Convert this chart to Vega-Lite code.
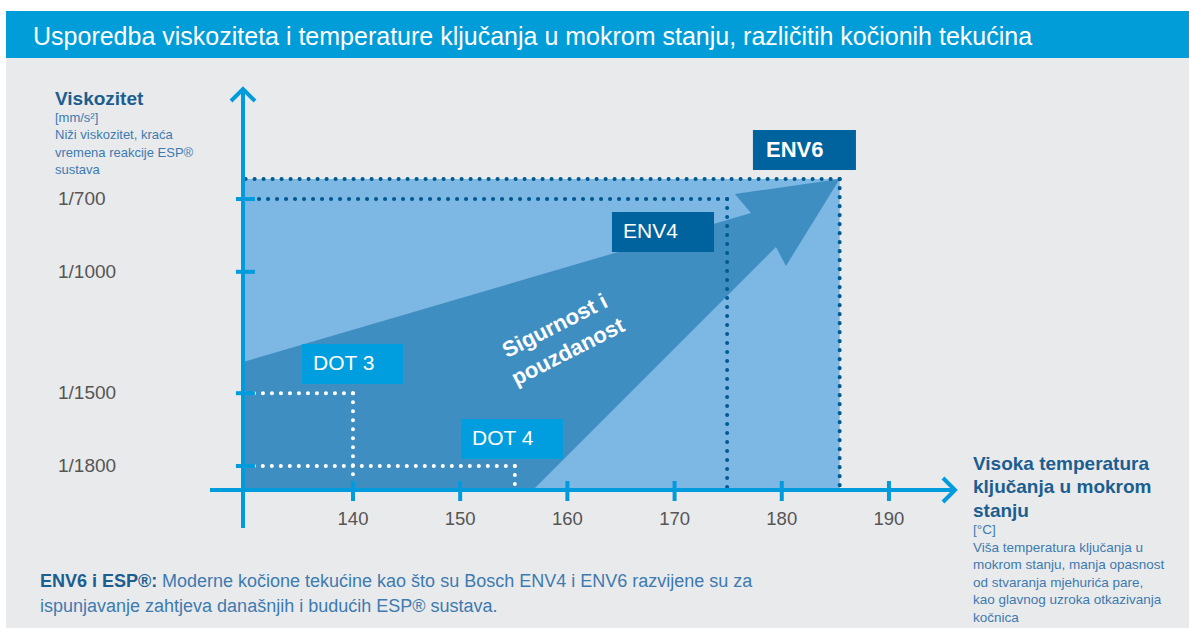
{
  "$schema": "https://vega.github.io/schema/vega-lite/v6.json",
  "width": 1189,
  "height": 628,
  "autosize": {"type": "fit", "contains": "padding"},
  "padding": 0,
  "background": "#ffffff",
  "config": {"view": {"stroke": null}, "font": "Liberation Sans"},
  "datasets": {
    "fluids": [
      {"fluid": "ENV6", "family": "ENV", "temp": 185.4, "visc": 618},
      {"fluid": "ENV4", "family": "ENV", "temp": 174.9, "visc": 700},
      {"fluid": "DOT 3", "family": "DOT", "temp": 140, "visc": 1500},
      {"fluid": "DOT 4", "family": "DOT", "temp": 155.1, "visc": 1800}
    ],
    "arrow": [
      {"i": 1, "temp": 129.74, "visc": 1371.5},
      {"i": 2, "temp": 177.13, "visc": 757.7},
      {"i": 3, "temp": 175.63, "visc": 679.4},
      {"i": 4, "temp": 185.4, "visc": 618},
      {"i": 5, "temp": 180.39, "visc": 976.0},
      {"i": 6, "temp": 179.46, "visc": 897.8},
      {"i": 7, "temp": 156.79, "visc": 1898.9},
      {"i": 8, "temp": 129.74, "visc": 1898.9}
    ],
    "xticks": [{"temp": 140}, {"temp": 150}, {"temp": 160}, {"temp": 170}, {"temp": 180}, {"temp": 190}],
    "yticks": [
      {"visc": 700, "label": "1/700"},
      {"visc": 1000, "label": "1/1000"},
      {"visc": 1500, "label": "1/1500"},
      {"visc": 1800, "label": "1/1800"}
    ],
    "one": [{}]
  },
  "layer": [
    {
      "data": {"name": "one"},
      "mark": {"type": "rect", "color": "#e9eaec"},
      "encoding": {
        "x": {"datum": 107.63, "type": "quantitative", "axis": null, "scale": {"domain": [107.07, 217.99], "nice": false, "zero": false}},
        "x2": {"datum": 217.99},
        "y": {"datum": 119.1, "type": "quantitative", "axis": null, "scale": {"domain": [-119.84, 2467.4], "nice": false, "zero": false, "reverse": true}},
        "y2": {"datum": 2467.4}
      }
    },
    {
      "data": {"name": "one"},
      "mark": {"type": "rect", "color": "#009dd9"},
      "encoding": {
        "x": {"datum": 107.63, "type": "quantitative", "axis": null},
        "x2": {"datum": 217.99},
        "y": {"datum": -74.5, "type": "quantitative", "axis": null},
        "y2": {"datum": 119.1}
      }
    },
    {
      "data": {"name": "one"},
      "mark": {"type": "text", "text": "Usporedba viskoziteta i temperature ključanja u mokrom stanju, različitih kočionih tekućina", "align": "left", "baseline": "middle", "fontSize": 25, "color": "#ffffff"},
      "encoding": {"x": {"datum": 110.15, "type": "quantitative", "axis": null}, "y": {"datum": 32.6, "type": "quantitative", "axis": null}}
    },
    {
      "data": {"name": "one"},
      "mark": {"type": "rect", "color": "#7db7e3"},
      "encoding": {
        "x": {"datum": 129.74, "type": "quantitative", "axis": null},
        "x2": {"datum": 185.4},
        "y": {"datum": 618, "type": "quantitative", "axis": null},
        "y2": {"datum": 1898.9}
      }
    },
    {
      "data": {"name": "arrow"},
      "mark": {"type": "line", "filled": true, "color": "#3f8ec1"},
      "encoding": {
        "x": {"field": "temp", "type": "quantitative", "axis": null},
        "y": {"field": "visc", "type": "quantitative", "axis": null},
        "order": {"field": "i", "type": "quantitative"}
      }
    },
    {
      "data": {"name": "fluids"},
      "transform": [{"filter": "datum.family === 'ENV'"}],
      "mark": {"type": "rule", "color": "#005a91", "strokeWidth": 4, "strokeDash": [0.1, 8.9], "strokeCap": "round"},
      "encoding": {
        "x": {"field": "temp", "type": "quantitative", "axis": null},
        "x2": {"datum": 129.74},
        "y": {"field": "visc", "type": "quantitative", "axis": null}
      }
    },
    {
      "data": {"name": "fluids"},
      "transform": [{"filter": "datum.family === 'ENV'"}],
      "mark": {"type": "rule", "color": "#005a91", "strokeWidth": 4, "strokeDash": [0.1, 8.9], "strokeCap": "round"},
      "encoding": {
        "x": {"field": "temp", "type": "quantitative", "axis": null},
        "y": {"field": "visc", "type": "quantitative", "axis": null},
        "y2": {"datum": 1898.9}
      }
    },
    {
      "data": {"name": "fluids"},
      "transform": [{"filter": "datum.family === 'DOT'"}],
      "mark": {"type": "rule", "color": "#ffffff", "strokeWidth": 4, "strokeDash": [0.1, 8.9], "strokeCap": "round"},
      "encoding": {
        "x": {"field": "temp", "type": "quantitative", "axis": null},
        "x2": {"datum": 129.74},
        "y": {"field": "visc", "type": "quantitative", "axis": null}
      }
    },
    {
      "data": {"name": "fluids"},
      "transform": [{"filter": "datum.family === 'DOT'"}],
      "mark": {"type": "rule", "color": "#ffffff", "strokeWidth": 4, "strokeDash": [0.1, 8.9], "strokeCap": "round"},
      "encoding": {
        "x": {"field": "temp", "type": "quantitative", "axis": null},
        "y": {"field": "visc", "type": "quantitative", "axis": null},
        "y2": {"datum": 1898.9}
      }
    },
    {
      "data": {"name": "one"},
      "mark": {"type": "text", "text": ["Sigurnost i", "pouzdanost"], "align": "center", "baseline": "middle", "angle": 333, "fontSize": 22, "fontWeight": "bold", "lineHeight": 29, "color": "#ffffff"},
      "encoding": {"x": {"datum": 158.84, "type": "quantitative", "axis": null}, "y": {"datum": 1223.2, "type": "quantitative", "axis": null}}
    },
    {
      "data": {"name": "one"},
      "mark": {"type": "rule", "color": "#009bdd", "strokeWidth": 4},
      "encoding": {
        "x": {"datum": 129.74, "type": "quantitative", "axis": null},
        "y": {"datum": 246.8, "type": "quantitative", "axis": null},
        "y2": {"datum": 2055.4}
      }
    },
    {
      "data": {"name": "one"},
      "mark": {"type": "rule", "color": "#009bdd", "strokeWidth": 4},
      "encoding": {
        "x": {"datum": 126.66, "type": "quantitative", "axis": null},
        "x2": {"datum": 196.0},
        "y": {"datum": 1898.9, "type": "quantitative", "axis": null}
      }
    },
    {
      "data": {"name": "yticks"},
      "mark": {"type": "rule", "color": "#009bdd", "strokeWidth": 4},
      "encoding": {
        "y": {"field": "visc", "type": "quantitative", "axis": null},
        "x": {"datum": 129.08, "type": "quantitative", "axis": null},
        "x2": {"datum": 130.85}
      }
    },
    {
      "data": {"name": "xticks"},
      "mark": {"type": "rule", "color": "#009bdd", "strokeWidth": 4},
      "encoding": {
        "x": {"field": "temp", "type": "quantitative", "axis": null},
        "y": {"datum": 1861.8, "type": "quantitative", "axis": null},
        "y2": {"datum": 1944.2}
      }
    },
    {
      "data": {"name": "one"},
      "mark": {"type": "point", "shape": "M-1,1L0,0L1,1", "size": 576, "filled": false, "stroke": "#009bdd", "strokeWidth": 4, "opacity": 1},
      "encoding": {"x": {"datum": 129.74, "type": "quantitative", "axis": null}, "y": {"datum": 246.8, "type": "quantitative", "axis": null}}
    },
    {
      "data": {"name": "one"},
      "mark": {"type": "point", "shape": "M-1,-1L0,0L-1,1", "size": 576, "filled": false, "stroke": "#009bdd", "strokeWidth": 4, "opacity": 1},
      "encoding": {"x": {"datum": 196.16, "type": "quantitative", "axis": null}, "y": {"datum": 1898.9, "type": "quantitative", "axis": null}}
    },
    {
      "data": {"name": "one"},
      "mark": {"type": "rect", "color": "#00639e"},
      "encoding": {"x": {"datum": 177.31, "type": "quantitative", "axis": null}, "x2": {"datum": 186.92}, "y": {"datum": 415.7, "type": "quantitative", "axis": null}, "y2": {"datum": 580.5}}
    },
    {
      "data": {"name": "one"},
      "mark": {"type": "text", "text": "ENV6", "align": "left", "baseline": "middle", "fontSize": 22, "fontWeight": "bold", "color": "#ffffff"},
      "encoding": {"x": {"datum": 178.53, "type": "quantitative", "axis": null}, "y": {"datum": 498.1, "type": "quantitative", "axis": null}}
    },
    {
      "data": {"name": "one"},
      "mark": {"type": "rect", "color": "#00639e"},
      "encoding": {"x": {"datum": 164.16, "type": "quantitative", "axis": null}, "x2": {"datum": 173.68}, "y": {"datum": 753.6, "type": "quantitative", "axis": null}, "y2": {"datum": 918.4}}
    },
    {
      "data": {"name": "one"},
      "mark": {"type": "text", "text": "ENV4", "align": "left", "baseline": "middle", "fontSize": 21, "color": "#ffffff"},
      "encoding": {"x": {"datum": 165.19, "type": "quantitative", "axis": null}, "y": {"datum": 836.0, "type": "quantitative", "axis": null}}
    },
    {
      "data": {"name": "one"},
      "mark": {"type": "rect", "color": "#009ede"},
      "encoding": {"x": {"datum": 135.24, "type": "quantitative", "axis": null}, "x2": {"datum": 144.66}, "y": {"datum": 1297.4, "type": "quantitative", "axis": null}, "y2": {"datum": 1462.2}}
    },
    {
      "data": {"name": "one"},
      "mark": {"type": "text", "text": "DOT 3", "align": "left", "baseline": "middle", "fontSize": 21, "color": "#ffffff"},
      "encoding": {"x": {"datum": 136.27, "type": "quantitative", "axis": null}, "y": {"datum": 1379.8, "type": "quantitative", "axis": null}}
    },
    {
      "data": {"name": "one"},
      "mark": {"type": "rect", "color": "#009ede"},
      "encoding": {"x": {"datum": 150.07, "type": "quantitative", "axis": null}, "x2": {"datum": 159.59}, "y": {"datum": 1606.4, "type": "quantitative", "axis": null}, "y2": {"datum": 1771.1}}
    },
    {
      "data": {"name": "one"},
      "mark": {"type": "text", "text": "DOT 4", "align": "left", "baseline": "middle", "fontSize": 21, "color": "#ffffff"},
      "encoding": {"x": {"datum": 151.1, "type": "quantitative", "axis": null}, "y": {"datum": 1688.8, "type": "quantitative", "axis": null}}
    },
    {
      "data": {"name": "yticks"},
      "mark": {"type": "text", "align": "left", "baseline": "middle", "fontSize": 19, "color": "#555555"},
      "encoding": {
        "x": {"datum": 112.48, "type": "quantitative", "axis": null},
        "y": {"field": "visc", "type": "quantitative", "axis": null},
        "text": {"field": "label", "type": "nominal"}
      }
    },
    {
      "data": {"name": "xticks"},
      "mark": {"type": "text", "align": "center", "baseline": "middle", "fontSize": 18.5, "color": "#555555"},
      "encoding": {
        "x": {"field": "temp", "type": "quantitative", "axis": null},
        "y": {"datum": 2018.3, "type": "quantitative", "axis": null},
        "text": {"field": "temp", "type": "quantitative"}
      }
    },
    {
      "data": {"name": "one"},
      "mark": {"type": "text", "text": "Viskozitet", "align": "left", "baseline": "middle", "fontSize": 19, "fontWeight": "bold", "color": "#1b5e8f"},
      "encoding": {"x": {"datum": 112.2, "type": "quantitative", "axis": null}, "y": {"datum": 288.0, "type": "quantitative", "axis": null}}
    },
    {
      "data": {"name": "one"},
      "mark": {"type": "text", "text": ["[mm/s²]", "Niži viskozitet, kraća", "vremena reakcije ESP®", "sustava"], "align": "left", "baseline": "middle", "fontSize": 13, "lineHeight": 17.3, "color": "#3d7ab0"},
      "encoding": {"x": {"datum": 112.2, "type": "quantitative", "axis": null}, "y": {"datum": 366.3, "type": "quantitative", "axis": null}}
    },
    {
      "data": {"name": "one"},
      "mark": {"type": "text", "text": ["Visoka temperatura", "ključanja u mokrom", "stanju"], "align": "left", "baseline": "middle", "fontSize": 19, "fontWeight": "bold", "lineHeight": 23.5, "color": "#1b5e8f"},
      "encoding": {"x": {"datum": 197.84, "type": "quantitative", "axis": null}, "y": {"datum": 1791.7, "type": "quantitative", "axis": null}}
    },
    {
      "data": {"name": "one"},
      "mark": {"type": "text", "text": ["[°C]", "Viša temperatura ključanja u", "mokrom stanju, manja opasnost", "od stvaranja mjehurića pare,", "kao glavnog uzroka otkazivanja", "kočnica"], "align": "left", "baseline": "middle", "fontSize": 13.5, "lineHeight": 17.6, "color": "#3d7ab0"},
      "encoding": {"x": {"datum": 197.84, "type": "quantitative", "axis": null}, "y": {"datum": 2063.7, "type": "quantitative", "axis": null}}
    },
    {
      "data": {"name": "one"},
      "mark": {"type": "text", "text": "ENV6 i ESP®:", "align": "left", "baseline": "middle", "fontSize": 18, "fontWeight": "bold", "color": "#1b5e8f"},
      "encoding": {"x": {"datum": 110.8, "type": "quantitative", "axis": null}, "y": {"datum": 2277.9, "type": "quantitative", "axis": null}}
    },
    {
      "data": {"name": "one"},
      "mark": {"type": "text", "text": "Moderne kočione tekućine  kao što su Bosch ENV4 i ENV6 razvijene su za", "align": "left", "baseline": "middle", "fontSize": 18, "color": "#3d7ab0"},
      "encoding": {"x": {"datum": 122.18, "type": "quantitative", "axis": null}, "y": {"datum": 2277.9, "type": "quantitative", "axis": null}}
    },
    {
      "data": {"name": "one"},
      "mark": {"type": "text", "text": "ispunjavanje zahtjeva današnjih i budućih ESP® sustava.", "align": "left", "baseline": "middle", "fontSize": 18, "color": "#3d7ab0"},
      "encoding": {"x": {"datum": 110.8, "type": "quantitative", "axis": null}, "y": {"datum": 2380.9, "type": "quantitative", "axis": null}}
    }
  ]
}
